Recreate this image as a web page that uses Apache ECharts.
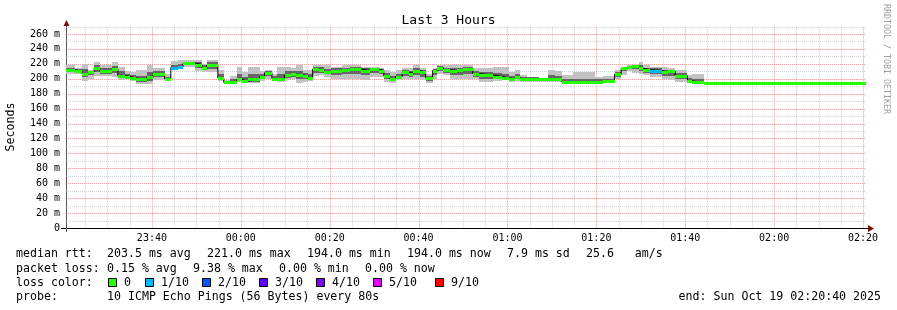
<!DOCTYPE html>
<html><head><meta charset="utf-8">
<script src="https://cdn.jsdelivr.net/npm/echarts@6/dist/echarts.min.js"></script>
<style>html,body{margin:0;padding:0;background:#fff}#c{width:897px;height:310px}</style>
</head><body><div id="c"></div>
<script>
// ---- data ----
const rangeStart = '23:20:40';
const rangeEnd = '02:20:40';
const segStart = ['23:20:40','23:22:40','23:24:15','23:25:35','23:27:00','23:28:15','23:31:00','23:32:20','23:34:00','23:35:05',
'23:36:25','23:38:50','23:40:15','23:42:50','23:44:15','23:45:50','23:47:00','23:49:40','23:51:15','23:52:20',
'23:54:50','23:56:10','23:57:35','23:59:05','00:00:15','00:01:35','00:04:15','00:05:20','00:07:00','00:08:15',
'00:09:50','00:11:15','00:12:20','00:14:00','00:15:05','00:16:10','00:17:35','00:18:40','00:20:15','00:22:50',
'00:24:40','00:27:00','00:29:10','00:31:00','00:32:10','00:33:30','00:34:50','00:36:20','00:37:45','00:38:50',
'00:40:15','00:41:35','00:43:10','00:44:15','00:45:35','00:47:10','00:48:45','00:50:05','00:52:10','00:53:30',
'00:56:50','00:58:50','01:00:15','01:01:35','01:02:50','01:04:30','01:07:00','01:09:10','01:10:45','01:12:10',
'01:14:50','01:19:45','01:21:35','01:24:05','01:25:35','01:27:00','01:28:05','01:29:30','01:30:35','01:32:10',
'01:34:50','01:36:10','01:37:45','01:40:30','01:41:35','01:44:15'];
const medianRtt = [212,210,207,209,214,211,213,204,203,201,
199,202,206,200,215,216,221,219,215,218,
201,195,196,199,197,199,203,208,200,200,
205,206,205,204,201,213,212,209,211,212,
213,211,213,211,204,200,203,209,207,211,
209,201,211,215,212,211,212,213,207,205,
203,201,200,202,199,200,199,200,199,196,
195,196,197,206,214,216,217,214,212,211,
209,210,204,197,195,194];
const smokeHigh = [218,215,220,212,222,219,222,216,210,209,
212,218,214,207,224,225,225,225,220,225,
212,198,204,216,209,216,210,212,207,216,
216,214,218,212,212,219,219,218,216,218,
218,216,216,214,212,209,212,215,214,218,
214,207,214,218,218,218,218,219,214,214,
216,216,209,212,205,203,200,212,211,205,
209,203,204,212,216,218,219,222,218,216,
216,214,212,205,207,194];
const smokeLow = [206,207,197,200,204,204,203,198,200,197,
193,193,198,198,212,214,216,210,209,209,
197,194,194,196,194,194,197,200,197,196,
198,200,194,196,197,204,205,203,200,200,
199,198,203,203,196,194,198,200,200,199,
198,194,200,207,205,200,199,200,199,196,
197,199,196,197,196,195,195,196,196,195,
194,194,195,200,205,210,208,207,205,203,
199,198,196,196,194,194];
const smokeHighInner = [215,213,213,211,218,215,217,210,206,205,
204,209,210,203,219,220,223,222,218,222,
206,197,200,206,202,206,207,210,204,206,
210,210,211,208,206,216,216,213,214,215,
216,214,215,213,208,204,207,212,211,214,
212,204,213,217,215,214,215,216,211,209,
208,207,204,206,202,202,200,205,204,200,
200,199,200,209,215,217,218,218,215,214,
212,212,208,201,200,194];
const smokeLowInner = [209,208,202,205,209,207,208,201,201,199,
196,197,202,199,213,215,218,214,212,213,
199,194.5,195,197,195,196,200,204,198,198,
201,203,199,200,199,208,208,206,205,206,
206,205,208,207,200,197,200,204,203,205,
203,197,205,211,208,205,205,206,203,200,
199,200,198,199,197,197,197,198,197,195.5,
194.5,195,196,203,210,213,213,210,208,206,
204,204,200,196.5,194.5,194];
const lossCount = [0,0,0,0,0,0,0,0,0,0,
0,0,0,0,1,1,0,0,0,0,
0,0,0,0,0,0,0,0,0,0,
0,0,0,0,0,0,0,0,0,0,
0,0,0,0,0,0,0,0,0,0,
0,0,0,0,0,0,0,0,0,0,
0,0,0,0,0,0,0,0,0,0,
0,0,0,0,0,0,0,0,0,1,
0,0,0,0,0,0];
const xTickLabels = ['23:40','00:00','00:20','00:40','01:00','01:20','01:40','02:00','02:20'];
const yTickValues = [0,20,40,60,80,100,120,140,160,180,200,220,240,260];
const yMax = 270;
const lossLegend = ['0','1/10','2/10','3/10','4/10','5/10','9/10'];
const lossLegendCount = [0,1,2,3,4,5,9];
const lossColors = ['#26ff00','#00b8ff','#0059ff','#5e00ff','#7e00ff','#dd00ff','#ff0000'];
const statsLine1 = ['median rtt:','203.5 ms avg','221.0 ms max','194.0 ms min','194.0 ms now','7.9 ms sd','25.6   am/s'];
const statsLine2 = ['packet loss:','0.15 % avg','9.38 % max','0.00 % min','0.00 % now'];
const probeText = '10 ICMP Echo Pings (56 Bytes) every 80s';
const endText = 'end: Sun Oct 19 02:20:40 2025';

// ---- helpers ----
function toMin(s){const p=s.split(':').map(Number);let v=p[0]*60+p[1]+(p[2]||0)/60;if(p[0]>=12)v-=1440;return v;}
function fmtMin(v){let m=Math.round(v);m=((m%1440)+1440)%1440;const h=Math.floor(m/60),mm=m%60;return String(h).padStart(2,'0')+':'+String(mm).padStart(2,'0');}
const START=toMin(rangeStart), END=toMin(rangeEnd);
const n=segStart.length;
const xs=segStart.map(toMin);
const segData=xs.map((x,i)=>[x, i+1<n?xs[i+1]:END, smokeLow[i], smokeHigh[i], smokeLowInner[i], smokeHighInner[i], medianRtt[i], lossCount[i]]);
const stepLine=xs.map((x,i)=>[x,medianRtt[i]]);stepLine.push([END,medianRtt[n-1]]);
const xTickValues=xTickLabels.map(toMin);
const gridData=[];
for(let m=Math.ceil(START/5)*5;m<=END;m+=5){gridData.push([0,m,xTickValues.indexOf(m)>=0?1:0]);}
for(let v=10;v<=yMax;v+=10){gridData.push([1,v,yTickValues.indexOf(v)>=0?1:0]);}

const FONT='"DejaVu Sans Mono", monospace';
const MAJ='rgba(240,60,60,0.5)', MIN='rgba(170,170,170,0.55)';

function bandRender(lo,hi,color){
  return function(params,api){
    const x0=api.value(0),x1=api.value(1),l=api.value(lo),h=api.value(hi);
    if(!(h>l))return null;
    const p0=api.coord([x0,h]),p1=api.coord([x1,l]);
    const X0=Math.round(p0[0]),X1=Math.round(p1[0]),Y0=Math.round(p0[1]),Y1=Math.round(p1[1]);
    return {type:'rect',shape:{x:X0,y:Y0,width:X1-X0,height:Math.max(1,Y1-Y0)},style:{fill:color}};
  };
}
function medRender(params,api){
  const x0=api.value(0),x1=api.value(1),m=api.value(6),lc=api.value(7);
  const p0=api.coord([x0,m]),p1=api.coord([x1,m]);
  const X0=Math.round(p0[0]),X1=Math.round(p1[0]),Y=Math.round(p0[1]);
  const idx=lossLegendCount.indexOf(lc);
  return {type:'rect',shape:{x:X0,y:Y-1,width:X1-X0,height:3},style:{fill:lossColors[idx<0?0:idx]}};
}
function gridRender(params,api){
  const cs=params.coordSys;const kind=api.value(0),v=api.value(1),maj=api.value(2);
  let shape;
  if(kind===0){const x=Math.round(api.coord([v,0])[0])+0.5;shape={x1:x,y1:cs.y,x2:x,y2:cs.y+cs.height};}
  else{const y=Math.round(api.coord([START,v])[1])+0.5;shape={x1:cs.x,y1:y,x2:cs.x+cs.width,y2:y};}
  return {type:'line',shape:shape,style:{stroke:maj?MAJ:MIN,lineWidth:1,lineDash:[1,1]}};
}

const graphics=[];
function txt(x,y,t,extra){graphics.push(Object.assign({type:'text',x:x,y:y,silent:true,style:{text:t,font:'11.6px '+FONT,fill:'#000',align:'left',verticalAlign:'middle'}},extra||{}));}
const l1x=[16,107,207,307,407,507,586];
statsLine1.forEach((t,i)=>txt(l1x[i],254.3,t));
const l2x=[16,107,193,279,365];
statsLine2.forEach((t,i)=>txt(l2x[i],268.7,t));
txt(16,282.9,'loss color:');
const boxX=[108.5,145.5,202.5,259.5,316.5,373.5,435.5];
lossLegend.forEach((t,i)=>{
  graphics.push({type:'rect',silent:true,shape:{x:boxX[i],y:278.5,width:8,height:8},style:{fill:lossColors[i],stroke:'#000',lineWidth:1}});
  txt(boxX[i]+15.5,282.9,t);
});
txt(16,297,'probe:');
txt(107,297,probeText);
graphics.push({type:'text',x:881,y:297,silent:true,style:{text:endText,font:'11.6px '+FONT,fill:'#000',align:'right',verticalAlign:'middle'}});
graphics.push({type:'text',x:11,y:127,rotation:Math.PI/2,silent:true,style:{text:'Seconds',font:'11.6px '+FONT,fill:'#000',align:'center',verticalAlign:'middle'}});
graphics.push({type:'text',x:886,y:59,rotation:-Math.PI/2,silent:true,style:{text:'RRDTOOL / TOBI OETIKER',font:'8.3px '+FONT,fill:'#a0a0a0',align:'center',verticalAlign:'middle'}});
// axis lines and arrows
graphics.push({type:'line',silent:true,shape:{x1:61,y1:228.5,x2:869,y2:228.5},style:{stroke:'#000',lineWidth:1}});
graphics.push({type:'polygon',silent:true,shape:{points:[[868,225],[874,228.5],[868,232]]},style:{fill:'#7a0d0d'}});
graphics.push({type:'line',silent:true,shape:{x1:66.5,y1:232,x2:66.5,y2:23},style:{stroke:'#555',lineWidth:1}});
graphics.push({type:'polygon',silent:true,shape:{points:[[63.5,26],[66.5,20],[69.5,26]]},style:{fill:'#7a0d0d'}});

const chart=echarts.init(document.getElementById('c'),null,{renderer:'canvas'});
chart.setOption({
  animation:false,
  backgroundColor:'#fff',
  title:{text:'Last 3 Hours',left:'center',top:9,textStyle:{fontFamily:FONT,fontSize:13,fontWeight:'normal',color:'#000'}},
  grid:{left:66,top:26.5,width:800,height:201.5,containLabel:false,outerBoundsMode:'none'},
  xAxis:{type:'value',min:START,max:END,
    axisLine:{show:false,onZero:false},
    axisTick:{show:false},splitLine:{show:false},
    axisLabel:{customValues:xTickValues,formatter:v=>fmtMin(v),fontFamily:FONT,fontSize:10,color:'#000',margin:5}},
  yAxis:{type:'value',min:0,max:yMax,interval:20,
    axisLine:{show:false,onZero:false},
    axisTick:{show:false},splitLine:{show:false},
    axisLabel:{formatter:v=>(v%20!==0||v>260)?'':(v===0?'0':v+' m'),fontFamily:FONT,fontSize:10,color:'#000',margin:6}},
  graphic:graphics,
  series:[
    {type:'custom',name:'grid',silent:true,clip:true,renderItem:gridRender,data:gridData,z:1},
    {type:'custom',name:'smoke',silent:true,clip:true,renderItem:bandRender(2,3,'#c2c2c2'),data:segData,encode:{x:[0,1],y:[2,3]},z:2},
    {type:'custom',name:'smokeInner',silent:true,clip:true,renderItem:bandRender(4,5,'#666666'),data:segData,encode:{x:[0,1],y:[4,5]},z:3},
    {type:'line',name:'median',step:'end',data:stepLine,showSymbol:false,silent:true,lineStyle:{color:'#000',width:1},z:4},
    {type:'custom',name:'medianLoss',silent:true,clip:true,renderItem:medRender,data:segData,encode:{x:[0,1],y:6},z:5}
  ]
});
</script></body></html>
